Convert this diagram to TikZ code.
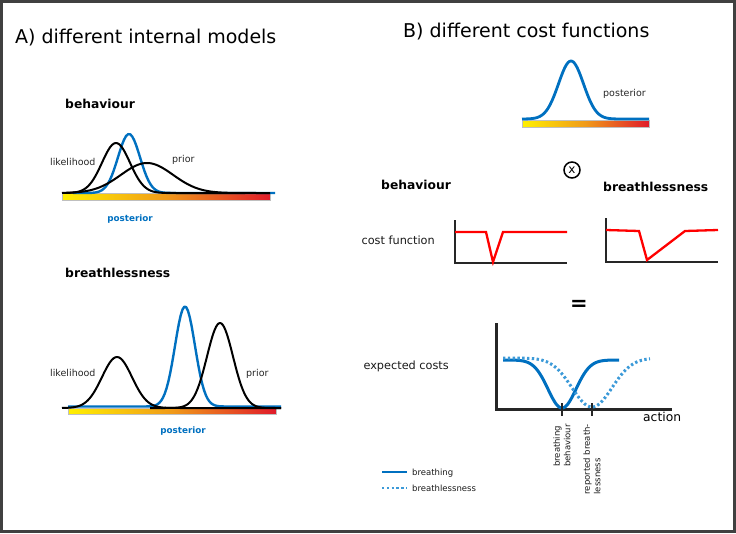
\documentclass[tikz,border=0pt]{standalone}
\usepackage{fontspec}
\setmainfont{DejaVu Sans}
\definecolor{postblue}{HTML}{0070C0}
\definecolor{dotblue}{HTML}{3C9AD8}
\definecolor{costred}{HTML}{FF0000}
\definecolor{framegray}{HTML}{404040}
\definecolor{bary}{HTML}{FFF000}
\definecolor{baro}{HTML}{F09A1A}
\definecolor{barr}{HTML}{E01B2A}
\pgfmathdeclarefunction{gauss}{2}{\pgfmathparse{exp(-0.5*((#1)/(#2))^2)}}

\begin{document}
\begin{tikzpicture}[x=1pt, y=-1pt,
  every node/.style={inner sep=0pt},
  title/.style={font=\fontsize{19}{22}\selectfont, anchor=base west},
  head/.style={font=\fontsize{12.3}{14}\selectfont\bfseries, anchor=base west},
  lbl/.style={font=\fontsize{9.5}{11}\selectfont, text=black!85, anchor=base west},
  postlbl/.style={font=\fontsize{8.8}{10}\selectfont\bfseries, text=postblue, anchor=base},
  side/.style={font=\fontsize{11.3}{13}\selectfont, text=black!90, anchor=base east},
  small/.style={font=\fontsize{8.5}{10.5}\selectfont, text=black!90},
  blk/.style={black, line width=2pt, line join=round},
  blu/.style={postblue, line width=2.4pt, line join=round},
  bar/.style={left color=bary, right color=barr, middle color=baro, draw=gray!50, line width=0.3pt},
  axis/.style={black!85, line width=2pt},
  costline/.style={costred, line width=2.3pt, line join=miter},
  costsolid/.style={postblue, line width=3pt},
  costdot/.style={dotblue, line width=3pt, dash pattern=on 2.4pt off 2.4pt}]

  \useasboundingbox (0,0) rectangle (736,533);
  \draw[framegray, line width=3pt] (1.5,1.5) rectangle (734.5,531.5);

  % A) internal models
  \node[title] (titleA) at (15,43) {A) different internal models};

  \node[head] (behavA) at (65,108) {behaviour};
  \shade[bar] (62,193.5) rectangle (270,200);
  \draw[blu] plot[domain=73:275, samples=100] (\x, {193-59*gauss(\x-129,11)});
  \draw[blk] plot[domain=62:245, samples=100] (\x, {193-50*gauss(\x-116,14)});
  \draw[blk] plot[domain=66:270, samples=100] (\x, {193-30*gauss(\x-147,26)});
  \node[lbl] (likeA) at (50,165) {likelihood};
  \node[lbl] (priorA) at (172,162) {prior};
  \node[postlbl] (postA) at (130,221) {posterior};

  \node[head] (breathA) at (65,277) {breathlessness};
  \shade[bar] (68,408) rectangle (276,414);
  \draw[blu] plot[domain=68:281, samples=120] (\x, {406.5-100*gauss(\x-185,10)});
  \draw[blk] plot[domain=62:281, samples=120] (\x, {408-51*gauss(\x-117,15)});
  \draw[blk] plot[domain=150:281, samples=100] (\x, {408-85*gauss(\x-220,13)});
  \node[lbl] (likeB) at (50,376) {likelihood};
  \node[lbl] (priorB) at (246,376) {prior};
  \node[postlbl] (postB) at (183,433) {posterior};

  % B) cost functions
  \node[title] (titleB) at (403,37) {B) different cost functions};

  \shade[bar] (522,120) rectangle (649,127);
  \draw[blu, line width=2.8pt] plot[domain=522:649, samples=100] (\x, {119-58*gauss(\x-571,12.5)});
  \node[lbl] (postTop) at (603,96) {posterior};

  \node[circle, draw, line width=1.5pt, minimum size=16pt, font=\fontsize{12}{12}\selectfont] (times) at (572,170) {x};

  \node[head] (behavB) at (381,189) {behaviour};
  \node[head] (breathB) at (603,191) {breathlessness};
  \node[side] (costfn) at (435,244) {cost function};

  \draw[axis] (455,220) |- (567,263);
  \draw[costline] (455,232) -- (486,232) -- (493,262) -- (503,232) -- (567,232);
  \draw[axis] (606,218) |- (718,262);
  \draw[costline] (606,230) -- (639,231) -- (647,260) -- (685,231) -- (718,230);

  \node[font=\fontsize{21}{21}\selectfont\bfseries] (equals) at (579,305) {=};

  \node[side] (expcost) at (449,369) {expected costs};
  \draw[axis, line width=3pt] (496,323) |- (672,409);
  \draw[costsolid] plot[domain=503:619, samples=100] (\x, {408-48*(1-gauss(\x-562,14))});
  \draw[costdot] plot[domain=503:650, samples=100] (\x, {407-49*(1-gauss(\x-592,20))});
  \draw[axis] (562,403) -- (562,416);
  \draw[axis] (592,403) -- (592,416);
  \node[font=\fontsize{12.3}{14}\selectfont, anchor=base west] (action) at (643,421) {action};
  \node[small, rotate=90, anchor=east, align=left] (behavtick) at (562,424) {breathing\\behaviour};
  \node[small, rotate=90, anchor=east, align=left] (reptick) at (592,424) {reported breath-\\lessness};

  \draw[costsolid, line width=2.6pt] (382,472) -- (407,472);
  \node[small, anchor=base west] (legsolid) at (412,475) {breathing};
  \draw[costdot, line width=2.6pt] (382,488) -- (407,488);
  \node[small, anchor=base west] (legdot) at (412,491) {breathlessness};
\end{tikzpicture}
\end{document}
